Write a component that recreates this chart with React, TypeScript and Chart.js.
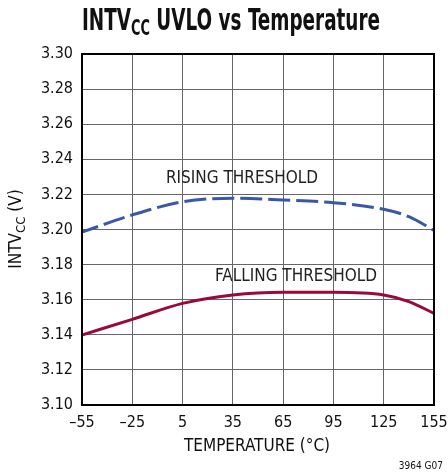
import React, { useEffect, useRef } from "react";
import { Chart, registerables } from "chart.js";

Chart.register(...registerables);

const temps = [-55, -25, 5, 35, 65, 95, 125, 140, 155];
const rising = [3.1985, 3.2083, 3.2158, 3.2178, 3.2168, 3.2153, 3.2115, 3.2073, 3.1995];
const falling = [3.1399, 3.1488, 3.1579, 3.1627, 3.1642, 3.1642, 3.1627, 3.1589, 3.1522];
const xTicks = [-55, -25, 5, 35, 65, 95, 125, 155];
const yMin = 3.1;
const yMax = 3.3;

const FONT = "'Liberation Sans Narrow', 'DejaVu Sans Condensed', 'Liberation Sans', sans-serif";

const textPlugin = {
  id: "customText",
  afterDraw(chart: any) {
    const ctx = chart.ctx;
    const area = chart.chartArea;
    ctx.save();
    ctx.fillStyle = "#111";
    ctx.textBaseline = "alphabetic";
    // Title (horizontally condensed)
    const big = `bold 30px ${FONT}`;
    const small = `bold 21px ${FONT}`;
    ctx.font = big;
    const w1 = ctx.measureText("INTV").width;
    const w3 = ctx.measureText(" UVLO vs Temperature").width;
    ctx.font = small;
    const w2 = ctx.measureText("CC").width;
    const total = w1 + w2 + w3;
    const targetW = 298;
    const sx = targetW / total;
    ctx.save();
    ctx.translate(231 - targetW / 2, 30);
    ctx.scale(sx, 1);
    let x = 0;
    ctx.textAlign = "left";
    ctx.font = big;
    ctx.fillText("INTV", x, 0);
    x += w1;
    ctx.font = small;
    ctx.fillText("CC", x, 5);
    x += w2;
    ctx.font = big;
    ctx.fillText(" UVLO vs Temperature", x, 0);
    ctx.restore();

    // Y axis title
    ctx.save();
    ctx.translate(21, 229);
    ctx.rotate(-Math.PI / 2);
    const f1 = `17px ${FONT}`;
    const f2 = `13px ${FONT}`;
    ctx.font = f1;
    const a1 = ctx.measureText("INTV").width;
    const a3 = ctx.measureText(" (V)").width;
    ctx.font = f2;
    const a2 = ctx.measureText("CC").width;
    let yx = -(a1 + a2 + a3) / 2;
    ctx.font = f1;
    ctx.fillText("INTV", yx, 0);
    yx += a1;
    ctx.font = f2;
    ctx.fillText("CC", yx, 4);
    yx += a2;
    ctx.font = f1;
    ctx.fillText(" (V)", yx, 0);
    ctx.restore();

    // X axis title
    ctx.font = `17px ${FONT}`;
    ctx.textAlign = "center";
    ctx.textBaseline = "middle";
    ctx.fillText("TEMPERATURE (°C)", 257, 447);

    // Curve labels
    ctx.font = `17px ${FONT}`;
    ctx.fillStyle = "#222";
    ctx.fillText("RISING THRESHOLD", 242, 179);
    ctx.fillText("FALLING THRESHOLD", 296, 277);

    // Figure code
    ctx.font = `10px ${FONT}`;
    ctx.textAlign = "right";
    ctx.fillStyle = "#111";
    ctx.fillText("3964 G07", 443, 466);

    // Border
    ctx.strokeStyle = "#000";
    ctx.lineWidth = 2;
    ctx.strokeRect(area.left, area.top, area.right - area.left, area.bottom - area.top);
    ctx.restore();
  },
};

export default function App() {
  const ref = useRef<HTMLCanvasElement>(null);
  useEffect(() => {
    document.body.style.margin = "0";
    const chart = new Chart(ref.current!, {
      type: "line",
      data: {
        datasets: [
          {
            label: "Rising",
            data: temps.map((t, i) => ({ x: t, y: rising[i] })),
            borderColor: "#3a58a8",
            borderWidth: 3,
            borderDash: [22, 6],
            borderDashOffset: 5,
            pointRadius: 0,
            cubicInterpolationMode: "monotone",
            fill: false,
          },
          {
            label: "Falling",
            data: temps.map((t, i) => ({ x: t, y: falling[i] })),
            borderColor: "#9a0a36",
            borderWidth: 3,
            pointRadius: 0,
            cubicInterpolationMode: "monotone",
            fill: false,
          },
        ],
      },
      options: {
        responsive: false,
        animation: false,
        layout: { padding: { top: 54, right: 14, left: 0, bottom: 0 } },
        plugins: { legend: { display: false }, tooltip: { enabled: false }, title: { display: false } },
        scales: {
          x: {
            type: "linear",
            min: -55,
            max: 155,
            afterBuildTicks: (s: any) => {
              s.ticks = xTicks.map((v) => ({ value: v }));
            },
            afterFit: (s: any) => {
              s.height = 68;
              s.paddingLeft = 0;
              s.paddingRight = 0;
            },
            grid: { color: "#666", lineWidth: 1, drawTicks: false },
            border: { display: false },
            ticks: {
              padding: 8,
              color: "#111",
              font: { family: FONT, size: 16 },
              callback: (v: any) => String(v).replace("-", "\u2013"),
            },
          },
          y: {
            type: "linear",
            min: yMin,
            max: yMax,
            ticks: {
              stepSize: 0.02,
              padding: 9,
              color: "#111",
              font: { family: FONT, size: 16 },
              callback: (v: any) => Number(v).toFixed(2),
            },
            afterFit: (s: any) => {
              s.width = 82;
              s.paddingTop = 0;
              s.paddingBottom = 0;
            },
            grid: { color: "#666", lineWidth: 1, drawTicks: false },
            border: { display: false },
          },
        },
      },
      plugins: [textPlugin],
    } as any);
    return () => chart.destroy();
  }, []);
  return <canvas ref={ref} width={448} height={473} style={{ display: "block" }} />;
}
